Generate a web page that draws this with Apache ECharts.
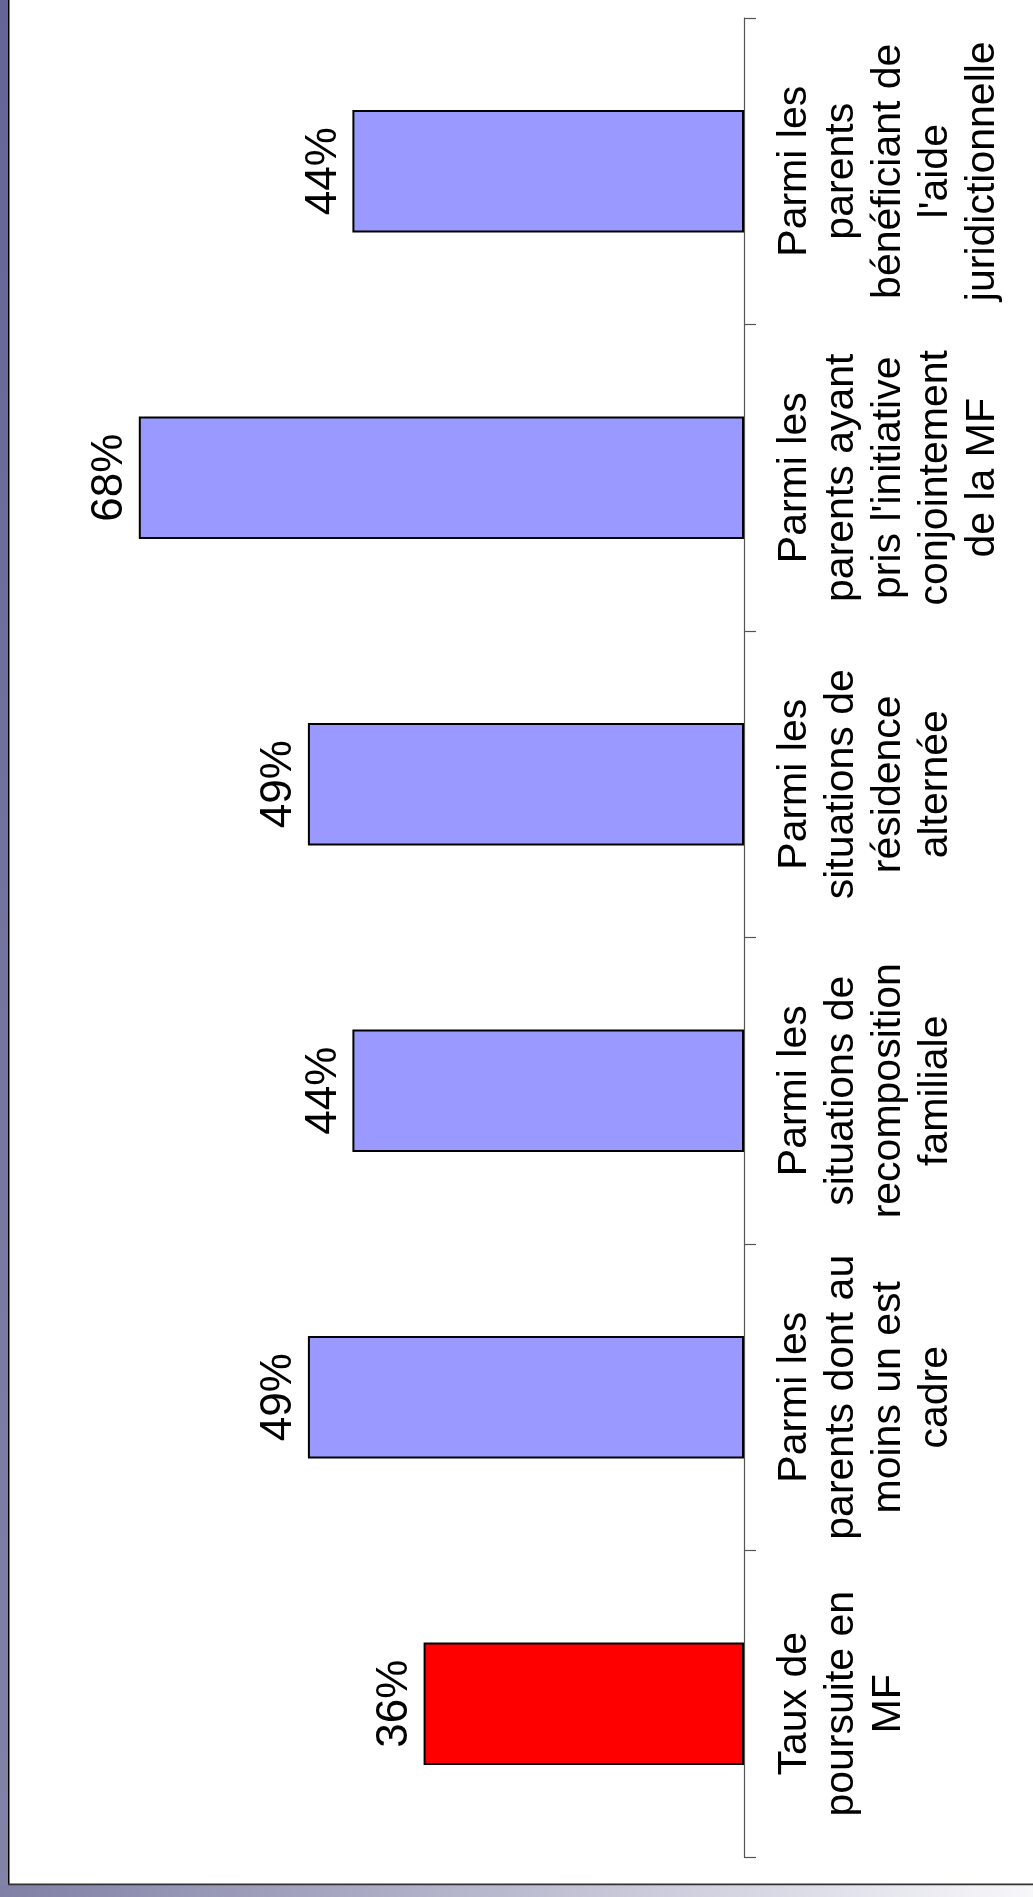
<!DOCTYPE html>
<html>
<head>
<meta charset="utf-8">
<script src="https://cdn.jsdelivr.net/npm/echarts@6/dist/echarts.min.js"></script>
<style>
html,body{margin:0;padding:0;background:#fff;}
#c{width:1033px;height:1897px;}
</style>
</head>
<body>
<div id="c"></div>
<script>
var categories = [
  "Taux de\npoursuite en\nMF",
  "Parmi les\nparents dont au\nmoins un est\ncadre",
  "Parmi les\nsituations de\nrecomposition\nfamiliale",
  "Parmi les\nsituations de\nrésidence\nalternée",
  "Parmi les\nparents ayant\npris l'initiative\nconjointement\nde la MF",
  "Parmi les\nparents\nbénéficiant de\nl'aide\njuridictionnelle"
];
var values = [36, 49, 44, 49, 68, 44];
var barColors = ["#FF0000", "#9999FF", "#9999FF", "#9999FF", "#9999FF", "#9999FF"];

var chart = echarts.init(document.getElementById('c'), null, {renderer: 'canvas'});
var font = "'Liberation Sans', Arial, sans-serif";

chart.setOption({
  animation: false,
  backgroundColor: '#ffffff',
  graphic: [
    {type: 'rect', z: -10, silent: true, shape: {x: 0, y: 0, width: 9, height: 1897},
     style: {fill: new echarts.graphic.LinearGradient(0, 0, 0, 1, [{offset: 0, color: '#646496'}, {offset: 1, color: '#8383A8'}])}},
    {type: 'rect', z: -10, silent: true, shape: {x: 0, y: 1885, width: 1033, height: 12},
     style: {fill: new echarts.graphic.LinearGradient(0, 0, 1, 0, [{offset: 0, color: '#8080A6'}, {offset: 1, color: '#F7F7FA'}])}},
    {type: 'rect', z: -9, silent: true, shape: {x: 8, y: 0, width: 1.5, height: 1885},
     style: {fill: '#000000'}},
    {type: 'rect', z: -9, silent: true, shape: {x: 8, y: 1883.5, width: 1025, height: 1.8},
     style: {fill: '#333333'}}
  ],
  grid: {left: 32, right: 289, top: 18, bottom: 40, containLabel: false},
  xAxis: {
    type: 'value', inverse: true, min: 0, max: 80, show: false,
    splitLine: {show: false}
  },
  yAxis: {
    type: 'category', position: 'right', data: categories,
    axisLine: {show: true, lineStyle: {color: '#555555', width: 1.2}},
    axisTick: {show: true, length: 12, lineStyle: {color: '#555555', width: 1.2}, alignWithLabel: false},
    axisLabel: {
      rotate: 90, margin: 27, color: '#000000', fontSize: 41, lineHeight: 47,
      fontFamily: font, interval: 0
    },
    splitLine: {show: false}
  },
  series: [{
    type: 'bar',
    data: values.map(function (v, i) {
      return {value: v, itemStyle: {color: barColors[i]}};
    }),
    barWidth: '40%',
    itemStyle: {borderColor: '#000000', borderWidth: 2},
    label: {
      show: true, position: 'left', distance: 7, rotate: 90,
      align: 'center', verticalAlign: 'bottom',
      formatter: '{c}%', fontSize: 44, color: '#000000', fontFamily: font
    }
  }]
});
</script>
</body>
</html>
